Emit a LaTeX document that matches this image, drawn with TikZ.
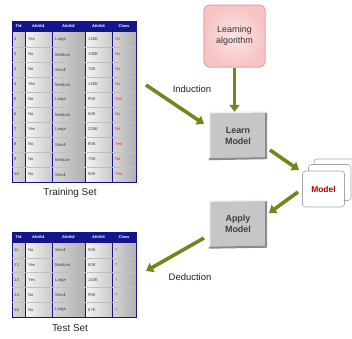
\documentclass[tikz,border=0pt]{standalone}
\usepackage{fontspec}
\setmainfont{Liberation Sans}
\usetikzlibrary{arrows.meta}
\definecolor{navy}{HTML}{14148C}
\definecolor{olive}{HTML}{74851C}
\definecolor{colgray}{HTML}{C4C4C4}
\definecolor{collight}{HTML}{EEEEEE}
\definecolor{pinkfill}{HTML}{F7C4C4}
\definecolor{pinkedge}{HTML}{E9A3A3}
\definecolor{btngray}{HTML}{C6C6C6}
\begin{document}
\begin{tikzpicture}[x=1bp,y=-1bp,
  cell/.style={anchor=west,inner sep=0pt,font=\fontsize{4.2}{4.2}\selectfont,text=black!75},
  hcell/.style={anchor=center,inner sep=0pt,font=\fontsize{4}{4}\selectfont\bfseries,text=white},
  redcell/.style={cell,text=red!85},
  arr/.style={draw=olive,line width=3.6bp,-{Triangle[length=7bp,width=10bp]}},
  btn/.style={fill=btngray,minimum width=58bp,minimum height=47bp,inner sep=0pt,align=center,
    font=\fontsize{9}{11}\selectfont\bfseries,text=black!75},
  card/.style={draw=black!35,fill=white,rounded corners=3bp,line width=0.6bp},
  lbl/.style={inner sep=0pt,font=\fontsize{9.5}{11}\selectfont,text=black!85}]
\useasboundingbox (0,0) rectangle (352,339);
\fill[white] (0,0) rectangle (352,339);

% ---------- column backgrounds ----------
\foreach \top/\bot/\hb in {21/182/32, 232/317/243}{
  \foreach \xa/\xb/\lc/\rc in {12/25/colgray!70/colgray, 25/52/collight!60/collight!85!black, 52/85/colgray!70/colgray!90!black,
       85/112/collight!60/collight!85!black, 112/136/colgray!70/colgray!90!black}{
    \shade[left color=\lc,right color=\rc] (\xa,\hb) rectangle (\xb,\bot);
  }
  \fill[navy] (12,\top) rectangle (136,\hb);
  \foreach \x in {25,52,85,112}{ \draw[navy,line width=0.8bp] (\x,\hb) -- (\x,\bot); }
  \draw[navy,line width=1bp] (12,\top) rectangle (136,\bot);
}
% row lines
\foreach \i in {1,...,9}{ \draw[black!25,line width=0.3bp] (12,{32+15*\i}) -- (136,{32+15*\i}); }
\foreach \i in {1,...,4}{ \draw[black!25,line width=0.3bp] (12,{243+14.8*\i}) -- (136,{243+14.8*\i}); }

% ---------- headers ----------
\foreach \tb/\y in {tr/26.5, te/237.5}{
  \node[hcell] (\tb-h1) at (18.5,\y) {Tid};
  \node[hcell] (\tb-h2) at (38.5,\y) {Attrib1};
  \node[hcell] (\tb-h3) at (68.5,\y) {Attrib2};
  \node[hcell] (\tb-h4) at (98.5,\y) {Attrib3};
  \node[hcell] (\tb-h5) at (124,\y) {Class};
}

% ---------- training rows ----------
\foreach \r/\a/\b/\c/\d [count=\i] in {1/Yes/Large/125K/No, 2/No/Medium/100K/No, 3/No/Small/70K/No,
   4/Yes/Medium/120K/No, 5/No/Large/95K/Yes, 6/No/Medium/60K/No, 7/Yes/Large/220K/No,
   8/No/Small/85K/Yes, 9/No/Medium/75K/No, 10/No/Small/90K/Yes}{
  \pgfmathsetmacro\yy{32+15*(\i-0.5)}
  \node[cell] (tr-\i-1) at (14,\yy) {\r};
  \node[cell] (tr-\i-2) at (28,\yy) {\a};
  \node[cell] (tr-\i-3) at (55,\yy) {\b};
  \node[cell] (tr-\i-4) at (88,\yy) {\c};
  \node[redcell] (tr-\i-5) at (115,\yy) {\d};
}
% ---------- test rows ----------
\foreach \r/\a/\b/\c [count=\i] in {11/No/Small/55K, 12/Yes/Medium/80K, 13/Yes/Large/110K,
   14/No/Small/95K, 15/No/Large/67K}{
  \pgfmathsetmacro\yy{243+14.8*(\i-0.5)}
  \node[cell] (te-\i-1) at (14,\yy) {\r};
  \node[cell] (te-\i-2) at (28,\yy) {\a};
  \node[cell] (te-\i-3) at (55,\yy) {\b};
  \node[cell] (te-\i-4) at (88,\yy) {\c};
  \node[redcell] (te-\i-5) at (115,\yy) {?};
}

\node[lbl,font=\fontsize{10}{12}\selectfont] (trainlbl) at (70,193) {Training Set};
\node[lbl,font=\fontsize{10}{12}\selectfont] (testlbl) at (70,328) {Test Set};

% ---------- learning algorithm ----------
\node[draw=pinkedge,line width=1bp,rounded corners=5bp,inner color=pinkfill!45,outer color=pinkfill,
  minimum width=61bp,minimum height=62bp,align=center,font=\fontsize{9}{11}\selectfont,text=black!80]
  (alg) at (234.5,36) {Learning\\algorithm};

% ---------- buttons ----------
\foreach \nm/\cx/\cy/\txt in {learn/238/135.5/{Learn\\Model}, apply/238/224/{Apply\\Model}}{
  \node[btn] (\nm) at (\cx,\cy) {\txt};
  \draw[white!80!btngray,line width=1.5bp] (\nm.south west) ++(0.75,0) -- ([xshift=0.75bp,yshift=-0.75bp]\nm.north west) -- (\nm.north east);
  \draw[black!45,line width=2bp] ([yshift=-1bp]\nm.north east) ++(-1,0) -- ([xshift=-1bp,yshift=1bp]\nm.south east) -- (\nm.south west);
}

% ---------- model cards ----------
\draw[card] (314,159) rectangle (357,195);
\draw[card] (308.5,164.5) rectangle (351,200.5);
\node[card,draw,minimum width=42bp,minimum height=36bp,inner sep=0pt,
  font=\fontsize{8.5}{10}\selectfont\bfseries,text=red!70!black] (model) at (323.5,189) {Model};

% ---------- arrows ----------
\coordinate (indA) at (146,85);
\coordinate (indB) at (204,124);
\coordinate (lmA) at (270,150);
\coordinate (lmB) at (299,170);
\coordinate (maA) at (298,192);
\coordinate (maB) at (269,213);
\coordinate (dedA) at (204,238);
\coordinate (dedB) at (146,271);
\draw[arr] (alg.south) -- (alg.south |- learn.north);
\draw[arr] (indA) -- (indB);
\draw[arr] (lmA) -- (lmB);
\draw[arr] (maA) -- (maB);
\draw[arr] (dedA) -- (dedB);

\node[lbl] (indlbl) at (192,89) {Induction};
\node[lbl] (dedlbl) at (190,277) {Deduction};
\end{tikzpicture}
\end{document}
